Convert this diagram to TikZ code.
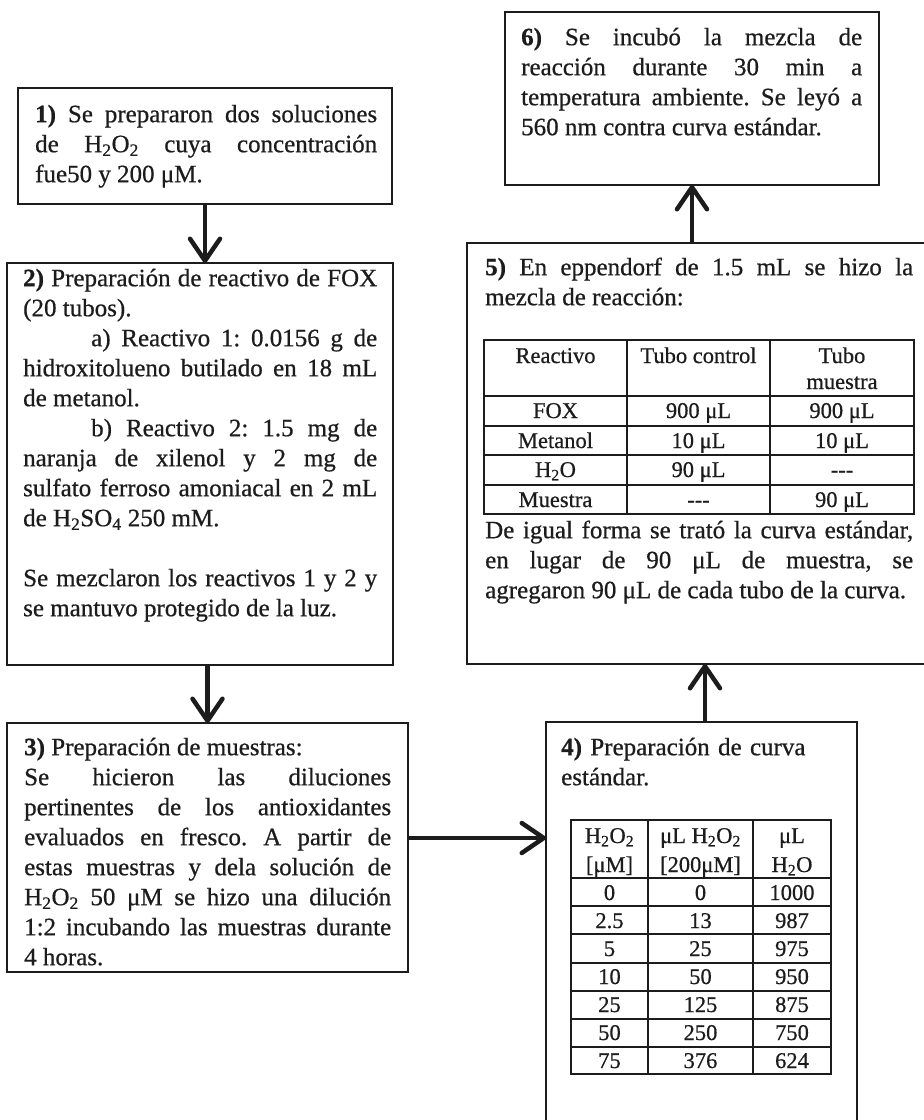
\documentclass[tikz,border=0pt]{standalone}
\usepackage{fontspec}
\setmainfont{Liberation Serif}[FakeBold=0.6]
\usetikzlibrary{arrows.meta}
\definecolor{ink}{RGB}{28,28,28}
\newcommand\HHOO{H\textsubscript{2}O\textsubscript{2}}
\newcommand\HHO{H\textsubscript{2}O}
\setlength\parindent{0pt}
\tolerance=10000 \hbadness=10000
\frenchspacing
\begin{document}
\begin{tikzpicture}[x=1pt,y=-1pt,
  boxst/.style={draw=ink, line width=2pt, inner sep=0pt, outer sep=0pt, anchor=north west},
  body/.style={anchor=north west, inner sep=0pt, text=ink, font=\fontsize{25}{30}\selectfont, align=justify},
  cell/.style={anchor=base, inner sep=0pt, text=ink, font=\fontsize{22.5}{27}\selectfont},
  tbl/.style={draw=ink, line width=1.5pt},
  arr/.style={draw=ink, line width=4.5pt, -{Straight Barb[length=22pt,width=30pt,round]}}]

\fill[white] (0,0) rectangle (924,1120);
\useasboundingbox (0,0) rectangle (924,1120);

% boxes
\node[boxst, minimum width=374pt, minimum height=116pt] (b1) at (18,88) {};
\node[boxst, minimum width=386pt, minimum height=402pt] (b2) at (7,263) {};
\node[boxst, minimum width=401pt, minimum height=249pt] (b3) at (7,723) {};
\node[boxst, minimum width=311pt, minimum height=410pt] (b4) at (546,722) {};
\node[boxst, minimum width=470pt, minimum height=421pt] (b5) at (467,243) {};
\node[boxst, minimum width=374pt, minimum height=173pt] (b6) at (505,12) {};

% texts
\node[body, text width=342pt] (t1) at (35,101) {\strut\textbf{1)} Se prepararon dos soluciones\linebreak de \HHOO{} cuya concentración\linebreak fue50 y 200 μM.};

\node[body, text width=354pt] (t2) at (23,265) {\strut\textbf{2)} Preparación de reactivo de FOX\linebreak (20 tubos).\par
\hspace*{68pt}a) Reactivo 1: 0.0156 g de\linebreak hidroxitolueno butilado en 18 mL\linebreak de metanol.\par
\hspace*{68pt}b) Reactivo 2: 1.5 mg de\linebreak naranja de xilenol y 2 mg de\linebreak sulfato ferroso amoniacal en 2 mL\linebreak de H\textsubscript{2}SO\textsubscript{4} 250 mM.\par
\vspace{30pt}
Se mezclaron los reactivos 1 y 2 y\linebreak se mantuvo protegido de la luz.};

\node[body, text width=367pt] (t3) at (24,734) {\strut\textbf{3)} Preparación de muestras:\par
Se hicieron las diluciones\linebreak pertinentes de los antioxidantes\linebreak evaluados en fresco. A partir de\linebreak estas muestras y dela solución de\linebreak \HHOO{} 50 μM se hizo una dilución\linebreak 1:2 incubando las muestras durante\linebreak 4 horas.};

\node[body, text width=285pt, align=left] (t4) at (561,734) {\strut\textbf{4)} Preparación de curva\\ estándar.};

\node[body, text width=428pt] (t5) at (485,254) {\strut\textbf{5)} En eppendorf de 1.5 mL se hizo la\linebreak mezcla de reacción:};

\node[body, text width=428pt] (t5b) at (485,517) {\strut De igual forma se trató la curva estándar,\linebreak en lugar de 90 μL de muestra, se\linebreak agregaron 90 μL de cada tubo de la curva.};

\node[body, text width=341pt] (t6) at (521,24) {\strut\textbf{6)} Se incubó la mezcla de\linebreak reacción durante 30 min a\linebreak temperatura ambiente. Se leyó a\linebreak 560 nm contra curva estándar.};

% table in box 5
\draw[tbl] (484,340) rectangle (914,514);
\foreach \x in {627,770} \draw[tbl] (\x,340) -- (\x,514);
\foreach \y in {396,426,455,485} \draw[tbl] (484,\y) -- (914,\y);
\node[cell] (r-h1) at (555.5,363) {Reactivo};
\node[cell] (r-h2) at (698.5,363) {Tubo control};
\node[cell] (r-h3) at (842,363) {Tubo};
\node[cell] (r-h3b) at (842,389) {muestra};
\node[cell] (r-11) at (555.5,418) {FOX};
\node[cell] (r-12) at (698.5,418) {900 μL};
\node[cell] (r-13) at (842,418) {900 μL};
\node[cell] (r-21) at (555.5,448) {Metanol};
\node[cell] (r-22) at (698.5,448) {10 μL};
\node[cell] (r-23) at (842,448) {10 μL};
\node[cell] (r-31) at (555.5,477) {\HHO};
\node[cell] (r-32) at (698.5,477) {90 μL};
\node[cell] (r-33) at (842,477) {{-}{-}{-}};
\node[cell] (r-41) at (555.5,507) {Muestra};
\node[cell] (r-42) at (698.5,507) {{-}{-}{-}};
\node[cell] (r-43) at (842,507) {90 μL};

% table in box 4
\draw[tbl] (571,820) rectangle (831,1074);
\foreach \x in {648,753} \draw[tbl] (\x,820) -- (\x,1074);
\foreach \y in {878,906,934,963,991,1019,1047} \draw[tbl] (571,\y) -- (831,\y);
\node[cell] (q-h1) at (609.5,843) {\HHOO};
\node[cell] (q-h1b) at (609.5,872) {[μM]};
\node[cell] (q-h2) at (700.5,843) {μL \HHOO};
\node[cell] (q-h2b) at (700.5,872) {[200μM]};
\node[cell] (q-h3) at (792,843) {μL};
\node[cell] (q-h3b) at (792,872) {\HHO};
\foreach \a/\b/\c [count=\r] in {0/0/1000, 2.5/13/987, 5/25/975, 10/50/950, 25/125/875, 50/250/750, 75/376/624} {
  \node[cell] (q-\r-1) at (609.5,{872+28*\r}) {\a};
  \node[cell] (q-\r-2) at (700.5,{872+28*\r}) {\b};
  \node[cell] (q-\r-3) at (792,{872+28*\r}) {\c};
}

% connectors
\draw[arr] (b1.south) -- (b1.south |- b2.north);
\draw[arr] (b2.south -| b3.north) -- (b3.north);
\draw[arr] ([yshift=9.5pt]b3.east) -- ([yshift=9.5pt]b3.east -| b4.west);
\draw[arr] ([xshift=3.5pt]b4.north) -- ([xshift=3.5pt]b4.north |- b5.south);
\draw[arr] (b6.south |- b5.north) -- (b6.south);
\end{tikzpicture}
\end{document}
